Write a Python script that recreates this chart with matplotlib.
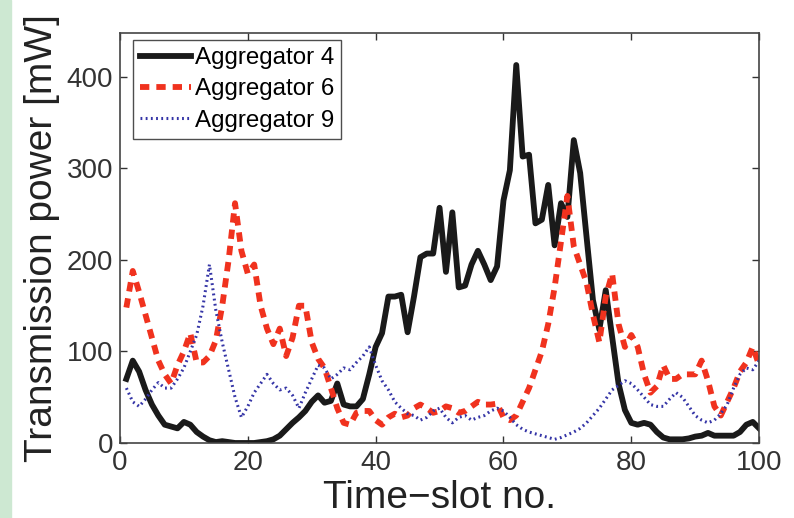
import numpy as np
import matplotlib
matplotlib.use('Agg')
import matplotlib.pyplot as plt
from matplotlib.patches import Rectangle

plt.rcParams['font.family'] = ['Liberation Sans', 'DejaVu Sans']

slots = np.arange(1, 101)

agg4 = [70, 90, 78, 58, 42, 30, 20, 18, 16, 23,
        20, 12, 7, 3, 1, 2, 1, 0, 0, 0,
        0, 1, 2, 4, 8, 15, 22, 28, 35, 45,
        52, 44, 46, 65, 42, 40, 40, 48, 75, 105,
        120, 160, 160, 162, 121, 160, 203, 207, 207, 257,
        187, 252, 170, 172, 195, 210, 195, 178, 193, 265,
        298, 413, 313, 315, 240, 244, 282, 216, 262, 247,
        331, 295, 225, 156, 124, 167, 116, 65, 36, 22,
        20, 22, 20, 12, 6, 4, 4, 4, 5, 7,
        8, 11, 8, 8, 8, 8, 12, 20, 23, 16]

agg6 = [148, 188, 165, 140, 115, 90, 75, 65, 85, 100,
        120, 88, 88, 95, 112, 150, 200, 262, 210, 185,
        195, 150, 125, 108, 125, 95, 115, 150, 150, 110,
        92, 82, 60, 38, 22, 20, 33, 35, 35, 25,
        20, 28, 32, 28, 30, 38, 42, 38, 33, 35,
        40, 38, 33, 35, 40, 45, 42, 42, 43, 28,
        25, 30, 45, 60, 80, 100, 130, 170, 220, 270,
        215, 195, 175, 140, 110, 160, 185, 130, 105, 118,
        105, 75, 55, 62, 85, 70, 70, 75, 75, 75,
        90, 68, 40, 30, 45, 60, 78, 88, 105, 85]

agg9 = [60, 45, 40, 48, 58, 66, 60, 60, 70, 82,
        100, 118, 150, 195, 145, 110, 80, 50, 28, 40,
        55, 65, 75, 65, 58, 60, 52, 38, 55, 70,
        85, 82, 70, 75, 82, 80, 88, 95, 105, 85,
        68, 58, 45, 38, 32, 30, 25, 28, 35, 38,
        28, 22, 28, 30, 25, 28, 30, 35, 38, 35,
        28, 20, 15, 12, 10, 8, 6, 4, 6, 9,
        12, 16, 22, 30, 38, 48, 58, 63, 68, 65,
        58, 50, 42, 40, 40, 48, 55, 50, 40, 30,
        25, 22, 25, 32, 42, 60, 75, 82, 80, 90]

fig = plt.figure(figsize=(7.94, 5.18), dpi=100)
fig.patches.append(Rectangle((0, 0), 11 / 794, 1, transform=fig.transFigure,
                             color='#cde8d2', zorder=0))
ax = fig.add_axes([0.1511, 0.1448, 0.8050, 0.7915])

ax.plot(slots, agg4, color='#1a1a1a', lw=4.2, label='Aggregator 4',
        solid_joinstyle='round')
ax.plot(slots, agg6, color='#f0321e', lw=4.2, ls=(0, (1.6, 1.2)), label='Aggregator 6')
ax.plot(slots, agg9, color='#3434a6', lw=2.2, ls=(0, (0.6, 1.1)), label='Aggregator 9')

ax.set_xlim(0, 100)
ax.set_ylim(0, 448)
ax.set_xticks([0, 20, 40, 60, 80, 100])
ax.set_yticks([0, 100, 200, 300, 400])
ax.tick_params(direction='in', top=True, right=True, labelsize=20,
               length=5, width=1, colors='#333333', pad=5)
for s in ax.spines.values():
    s.set_color('#444444')
    s.set_linewidth(1.2)

ax.set_xlabel('Time\u2212slot no.', fontsize=28, color='#222222')
ax.set_ylabel('Transmission power [mW]', fontsize=28, color='#222222')
ax.xaxis.set_label_coords(0.5, -0.09)
ax.yaxis.set_label_coords(-0.094, 0.5)

leg = ax.legend(loc='upper left', bbox_to_anchor=(0.0203, 0.983), borderaxespad=0,
                fontsize=17.4, frameon=True, fancybox=False,
                handlelength=2.1, handletextpad=0.15, borderpad=0.3,
                labelspacing=0.38)
leg.get_frame().set_edgecolor('#222222')
leg.get_frame().set_linewidth(1.0)

fig.savefig('out.png', dpi=100)
